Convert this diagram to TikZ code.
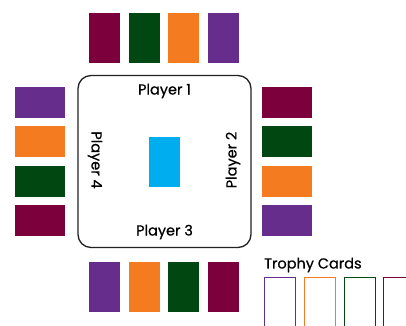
\documentclass[tikz,border=0pt]{standalone}
\usepackage{fontspec}
\setmainfont{Poppins}
\newfontfamily\lblfont{Poppins}[FakeBold=0.6]
\definecolor{cmaroon}{HTML}{7B003C}
\definecolor{cgreen}{HTML}{004712}
\definecolor{corange}{HTML}{F47B20}
\definecolor{cpurple}{HTML}{662D8C}
\definecolor{cblue}{HTML}{00AEEF}
\definecolor{cborder}{HTML}{222222}
\begin{document}
\begin{tikzpicture}[x=1pt,y=-1pt,
  vcard/.style={minimum width=31pt,minimum height=50pt,inner sep=0pt,outer sep=0pt,draw=none},
  hcard/.style={minimum width=50pt,minimum height=31pt,inner sep=0pt,outer sep=0pt,draw=none},
  tcard/.style={minimum width=31pt,minimum height=60pt,inner sep=0pt,outer sep=0pt,line width=1pt,anchor=north west},
  plabel/.style={font=\lblfont\fontsize{14.5}{16}\selectfont,text=black,inner sep=0pt}]
\useasboundingbox (0,0) rectangle (406,325);
\clip (0,0) rectangle (406,325);
% top cards
\node[vcard,fill=cmaroon] (t1) at (104.5,38) {};
\node[vcard,fill=cgreen]  (t2) at (144.5,38) {};
\node[vcard,fill=corange] (t3) at (183.5,38) {};
\node[vcard,fill=cpurple] (t4) at (223.5,38) {};
% bottom cards
\node[vcard,fill=cpurple] (b1) at (104.5,287) {};
\node[vcard,fill=corange] (b2) at (144.5,287) {};
\node[vcard,fill=cgreen]  (b3) at (183.5,287) {};
\node[vcard,fill=cmaroon] (b4) at (223.5,287) {};
% left cards
\node[hcard,fill=cpurple] (l1) at (40,102.5) {};
\node[hcard,fill=corange] (l2) at (40,141.5) {};
\node[hcard,fill=cgreen]  (l3) at (40,181.5) {};
\node[hcard,fill=cmaroon] (l4) at (40,220.5) {};
% right cards
\node[hcard,fill=cmaroon] (r1) at (287,102.5) {};
\node[hcard,fill=cgreen]  (r2) at (287,141.5) {};
\node[hcard,fill=corange] (r3) at (287,181.5) {};
\node[hcard,fill=cpurple] (r4) at (287,220.5) {};
% table
\node[draw=cborder,line width=1.3pt,rounded corners=13pt,minimum width=173pt,minimum height=172pt,inner sep=0pt] (table) at (164.5,161.5) {};
\node[fill=cblue,minimum width=31pt,minimum height=50pt,inner sep=0pt] (deck) at (164.5,162) {};
\node[plabel] (p1) at (164.5,91) {Player 1};
\node[plabel,rotate=90] (p2) at (233,160) {Player 2};
\node[plabel] (p3) at (164.5,232) {Player 3};
\node[plabel,rotate=-90] (p4) at (95,160) {Player 4};
% trophy
\node[plabel,anchor=west] (trophy) at (264,265) {Trophy Cards};
\node[tcard,draw=cpurple] (tc1) at (264.5,277) {};
\node[tcard,draw=corange] (tc2) at (304.5,277) {};
\node[tcard,draw=cgreen]  (tc3) at (344,277) {};
\node[tcard,draw=cmaroon] (tc4) at (383.5,277) {};
\end{tikzpicture}
\end{document}
